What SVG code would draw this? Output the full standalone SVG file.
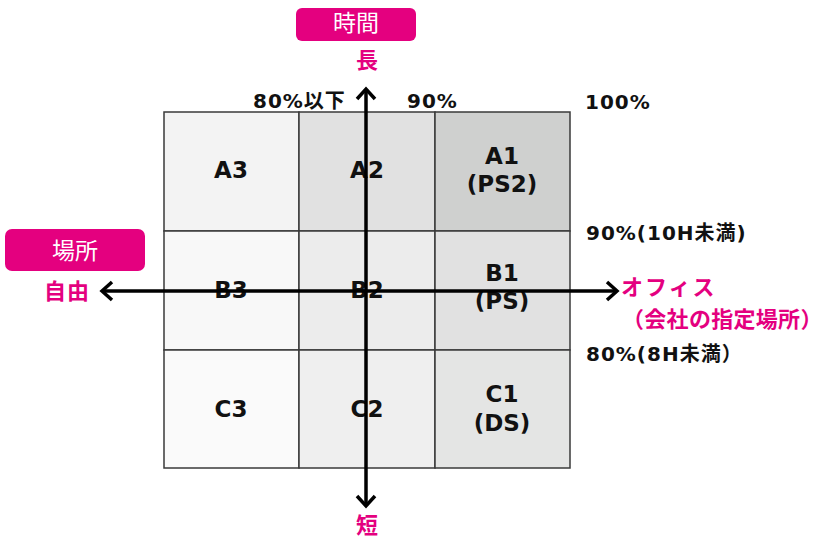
<svg xmlns="http://www.w3.org/2000/svg" width="827" height="542" viewBox="0 0 827 542">
<defs>
<style>
.cell{stroke:#3a3a3a;stroke-width:1.5}
.t{font-family:"DejaVu Sans","Noto Sans CJK JP",sans-serif;font-weight:bold;fill:#111}
.c{font-size:23px;text-anchor:middle}
.p{font-size:20px;letter-spacing:1px}
.m{font-family:"Noto Sans CJK JP","Noto Sans",sans-serif;font-weight:bold;fill:#e4007f;font-size:22px}
.tag{fill:#e4007f}
.tagt{font-family:"Noto Sans CJK JP","Noto Sans",sans-serif;fill:#fff;font-size:23px;text-anchor:middle}
.ax{stroke:#000;stroke-width:3.5;fill:none}
.ah{stroke:#000;stroke-width:3.5;fill:none;stroke-linecap:butt;stroke-linejoin:miter}
</style>
</defs>
<rect width="827" height="542" fill="#fff"/>
<g id="A3"><rect class="cell" x="164" y="112" width="135" height="119" fill="#f3f3f3"/><text class="t c" x="231" y="178">A3</text></g>
<g id="A2"><rect class="cell" x="299" y="112" width="136" height="119" fill="#e1e1e1"/><text class="t c" x="367" y="178">A2</text></g>
<g id="A1"><rect class="cell" x="435" y="112" width="135" height="119" fill="#cfd0cf"/><text class="t c" x="502" y="164">A1</text><text class="t c" x="502" y="192">(PS2)</text></g>
<g id="B3"><rect class="cell" x="164" y="231" width="135" height="119" fill="#f8f8f8"/><text class="t c" x="231" y="298">B3</text></g>
<g id="B2"><rect class="cell" x="299" y="231" width="136" height="119" fill="#ececec"/><text class="t c" x="367" y="298">B2</text></g>
<g id="B1"><rect class="cell" x="435" y="231" width="135" height="119" fill="#e1e1e1"/><text class="t c" x="502" y="281">B1</text><text class="t c" x="502" y="309">(PS)</text></g>
<g id="C3"><rect class="cell" x="164" y="350" width="135" height="118" fill="#fafafa"/><text class="t c" x="231" y="417">C3</text></g>
<g id="C2"><rect class="cell" x="299" y="350" width="136" height="118" fill="#efefef"/><text class="t c" x="367" y="417">C2</text></g>
<g id="C1"><rect class="cell" x="435" y="350" width="135" height="118" fill="#e4e5e4"/><text class="t c" x="502" y="402">C1</text><text class="t c" x="502" y="431">(DS)</text></g>
<g id="connectors">
<line class="ax" x1="366" y1="89" x2="366" y2="506"/>
<polyline class="ah" points="357,99 366,89 375,99"/>
<polyline class="ah" points="357,496 366,506 375,496"/>
<line class="ax" x1="102" y1="291" x2="617" y2="291"/>
<polyline class="ah" points="112,282 102,291 112,300"/>
<polyline class="ah" points="607,282 617,291 607,300"/>
</g>
<g id="time-tag"><rect class="tag" x="296" y="8" width="120" height="33" rx="6"/><text class="tagt" x="356" y="31">時間</text></g>
<g id="place-tag"><rect class="tag" x="5" y="229" width="140" height="42" rx="7"/><text class="tagt" x="75" y="259">場所</text></g>
<g id="labels">
<text class="m" x="367" y="68" text-anchor="middle">長</text>
<text class="m" x="367" y="533" text-anchor="middle">短</text>
<text class="m" x="67" y="299" text-anchor="middle" style="letter-spacing:1px">自由</text>
<text class="m" x="621" y="295" style="letter-spacing:2px">オフィス</text>
<text class="m" x="622" y="327" style="letter-spacing:0.3px">（会社の指定場所）</text>
<text class="t p" x="253" y="108">80%以下</text>
<text class="t p" x="407" y="108">90%</text>
<text class="t p" x="585" y="109">100%</text>
<text class="t p" x="586" y="240">90%(10H未満)</text>
<text class="t p" x="586" y="361">80%(8H未満）</text>
</g>
</svg>
